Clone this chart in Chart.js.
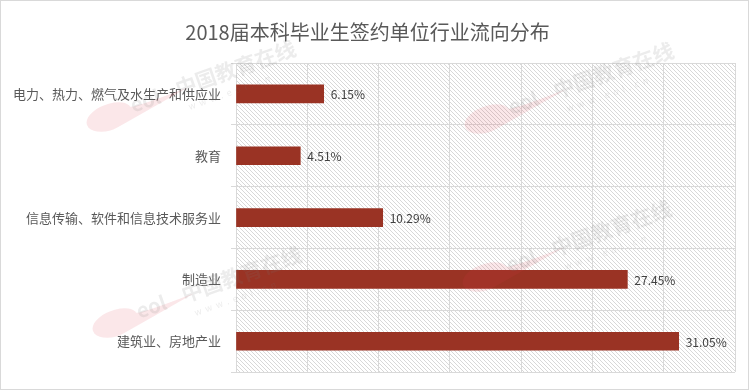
<!DOCTYPE html>
<html>
<head>
<meta charset="utf-8">
<script src="https://cdn.jsdelivr.net/npm/chart.js@4"></script>
<style>
  html, body { margin: 0; padding: 0; background: #fff; }
  #wrap { width: 749px; height: 390px; }
</style>
</head>
<body>
<div id="wrap"><canvas id="industryChart"></canvas></div>
<script>
const categories = ["电力、热力、燃气及水生产和供应业", "教育", "信息传输、软件和信息技术服务业", "制造业", "建筑业、房地产业"];
const shares = [6.15, 4.51, 10.29, 27.45, 31.05];
const xTicks = [0, 5, 10, 15, 20, 25, 30, 35];

const FONT = "'Noto Sans CJK SC', 'Noto Sans', sans-serif";

function hatchPattern(ctx) {
    const c = document.createElement("canvas");
    c.width = 4; c.height = 4;
    const p = c.getContext("2d");
    p.strokeStyle = "#d8d8d8";
    p.lineWidth = 1;
    p.beginPath();
    p.moveTo(-1, -1); p.lineTo(5, 5);
    p.moveTo(3, -1); p.lineTo(5, 1);
    p.moveTo(-1, 3); p.lineTo(1, 5);
    p.stroke();
    return ctx.createPattern(c, "repeat");
}

// hatched plot background
const plotBackground = {
    id: "plotBackground",
    beforeDraw(chart) {
        const { ctx, chartArea: a } = chart;
        ctx.save();
        ctx.fillStyle = hatchPattern(ctx);
        ctx.fillRect(a.left, a.top, a.right - a.left, a.bottom - a.top);
        ctx.restore();
    }
};

// value labels at the end of each bar
const barLabels = {
    id: "barLabels",
    afterDatasetsDraw(chart) {
        const { ctx } = chart;
        const meta = chart.getDatasetMeta(0);
        ctx.save();
        ctx.font = "12px " + FONT;
        ctx.fillStyle = "#404040";
        ctx.textAlign = "left";
        ctx.textBaseline = "middle";
        meta.data.forEach((bar, i) => {
            ctx.fillText(shares[i].toFixed(2) + "%", bar.x + 7, bar.y + 1);
        });
        ctx.restore();
    }
};

// faint site watermarks + outer frame
const watermark = {
    id: "watermark",
    afterDraw(chart) {
        const { ctx, width, height } = chart;
        const spots = [[112, 112], [490, 114], [488, 272], [118, 318]];
        spots.forEach(([x, y]) => {
            ctx.save();
            ctx.translate(x, y);
            ctx.rotate(-0.34);
            ctx.fillStyle = "rgba(225, 60, 70, 0.12)";
            ctx.beginPath();
            ctx.ellipse(-4, 4, 24, 13, 0, Math.PI * 0.55, Math.PI * 1.9);
            ctx.quadraticCurveTo(14, 4, 80, 2);
            ctx.quadraticCurveTo(14, 14, -4, 17);
            ctx.fill();
            ctx.fillStyle = "rgba(120, 120, 120, 0.14)";
            ctx.font = "bold 20px " + FONT;
            ctx.fillText("eol", 20, 8);
            ctx.font = "bold 21px " + FONT;
            ctx.fillText("中国教育在线", 68, 8);
            ctx.font = "9px " + FONT;
            ctx.fillText("w  w  w  .  e  o  l  .  c  n", 74, 24);
            ctx.restore();
        });
        ctx.save();
        ctx.strokeStyle = "#d9d9d9";
        ctx.lineWidth = 1;
        ctx.strokeRect(0.5, 0.5, width - 1, height - 1);
        ctx.restore();
    }
};

new Chart(document.getElementById("industryChart"), {
    type: "bar",
    data: {
        labels: categories,
        datasets: [{
            data: shares,
            backgroundColor: "#9a3324",
            barThickness: 18
        }]
    },
    options: {
        indexAxis: "y",
        responsive: true,
        maintainAspectRatio: false,
        animation: false,
        devicePixelRatio: 1,
        layout: { padding: { left: 0, right: 14, top: 0, bottom: 15 } },
        plugins: {
            legend: { display: false },
            tooltip: { enabled: false },
            title: {
                display: true,
                text: "2018届本科毕业生签约单位行业流向分布",
                color: "#595959",
                font: { family: FONT, size: 20, weight: "normal" },
                padding: { top: 20, bottom: 19 }
            }
        },
        scales: {
            x: {
                min: xTicks[0],
                max: xTicks[xTicks.length - 1],
                afterBuildTicks(scale) { scale.ticks = xTicks.map(v => ({ value: v })); },
                afterFit(scale) { scale.height = 0; },
                ticks: { display: false },
                grid: { color: "#d9d9d9", drawTicks: false },
                border: { display: false }
            },
            y: {
                afterFit(scale) { scale.width = 236; },
                ticks: {
                    color: "#595959",
                    padding: 10,
                    font: { family: FONT, size: 13 }
                },
                grid: { color: "#d9d9d9", offset: true, tickLength: 5 },
                border: { color: "#d9d9d9" }
            }
        }
    },
    plugins: [plotBackground, barLabels, watermark]
});
</script>
</body>
</html>
